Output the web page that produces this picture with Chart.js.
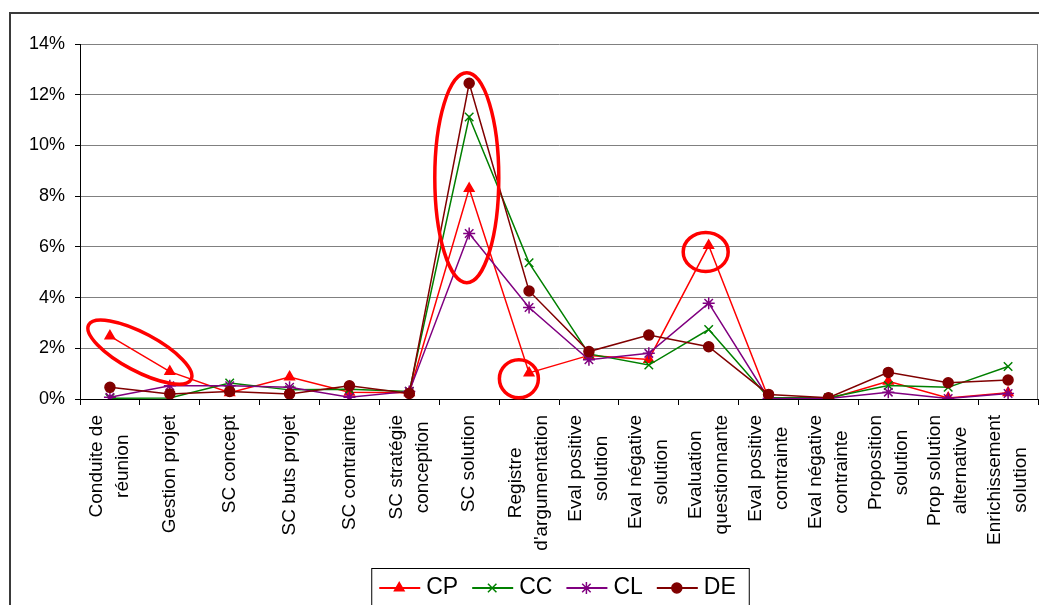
<!DOCTYPE html>
<html>
<head>
<meta charset="utf-8">
<script src="https://cdn.jsdelivr.net/npm/chart.js@4"></script>
<style>
  body { margin: 0; background: #fff; }
  canvas { display: block; }
</style>
</head>
<body>
<canvas id="chartCanvas" width="1039" height="605"></canvas>
<script>
// Catégories (axe X), une ligne par élément du tableau
const categories = [
  ['Conduite de', 'réunion'], ['Gestion projet'], ['SC concept'], ['SC buts projet'],
  ['SC contrainte'], ['SC stratégie', 'conception'], ['SC solution'], ['Registre', "d'argumentation"],
  ['Eval positive', 'solution'], ['Eval négative', 'solution'], ['Evaluation', 'questionnante'],
  ['Eval positive', 'contrainte'], ['Eval négative', 'contrainte'], ['Proposition', 'solution'],
  ['Prop solution', 'alternative'], ['Enrichissement', 'solution']
];

// Valeurs en %
const cpValues = [2.48, 1.08, 0.25, 0.87, 0.27, 0.25, 8.30, 1.03, 1.72, 1.56, 6.05, 0.03, 0.00, 0.70, 0.04, 0.25];
const ccValues = [0.03, 0.04, 0.63, 0.36, 0.38, 0.30, 11.12, 5.37, 1.78, 1.34, 2.74, 0.05, 0.05, 0.53, 0.46, 1.28];
const clValues = [0.07, 0.52, 0.52, 0.46, 0.07, 0.30, 6.53, 3.61, 1.55, 1.80, 3.78, 0.02, 0.02, 0.27, 0.02, 0.22];
const deValues = [0.46, 0.20, 0.30, 0.20, 0.52, 0.22, 12.45, 4.26, 1.87, 2.52, 2.06, 0.18, 0.05, 1.05, 0.64, 0.75];

const yTicks = [0, 2, 4, 6, 8, 10, 12, 14];

// Annotations rouges (ellipses dessinées à la main) : position en index de catégorie / valeur
const annotations = [
  { x: 0.5, y: 1.85, rx: 58, ry: 19, rot: 28 },
  { x: 5.96, y: 8.73, rx: 32, ry: 105, rot: 0 },
  { x: 6.83, y: 0.8, rx: 19.5, ry: 19, rot: 0 },
  { x: 9.95, y: 5.8, rx: 22.5, ry: 19.5, rot: 0 }
];

const FONT = 'Arial, "Liberation Sans", sans-serif';

function drawMarker(ctx, ds, x, y) {
  Chart.helpers.drawPoint(ctx, {
    pointStyle: ds.pointStyle,
    radius: ds.pointRadius,
    borderWidth: ds.pointBorderWidth,
    rotation: 0
  }, x, y);
}

const decorPlugin = {
  id: 'decor',
  beforeDraw(chart) {
    const ctx = chart.ctx;
    ctx.save();
    ctx.fillStyle = '#fff';
    ctx.fillRect(0, 0, chart.width, chart.height);
    ctx.restore();
  },
  afterDatasetsDraw(chart) {
    const ctx = chart.ctx;
    const xs = chart.scales.x, ys = chart.scales.y;
    ctx.save();
    ctx.strokeStyle = '#ff0000';
    ctx.lineWidth = 3.5;
    annotations.forEach(a => {
      ctx.beginPath();
      ctx.ellipse(xs.getPixelForValue(a.x), ys.getPixelForValue(a.y), a.rx, a.ry, a.rot * Math.PI / 180, 0, Math.PI * 2);
      ctx.stroke();
    });
    ctx.restore();
  },
  afterDraw(chart) {
    const ctx = chart.ctx;
    const area = chart.chartArea;
    const xs = chart.scales.x;
    ctx.save();

    // cadre extérieur
    ctx.strokeStyle = '#3a3a3a';
    ctx.lineWidth = 2;
    ctx.strokeRect(10, 13, chart.width + 20, chart.height + 20);

    // bord droit de la zone de traçage
    ctx.strokeStyle = '#808080';
    ctx.lineWidth = 1;
    ctx.beginPath();
    ctx.moveTo(area.right - 0.5, area.top);
    ctx.lineTo(area.right - 0.5, area.bottom);
    ctx.stroke();

    // étiquettes X verticales, lignes centrées
    ctx.fillStyle = '#000';
    ctx.font = '19px ' + FONT;
    ctx.textAlign = 'center';
    ctx.textBaseline = 'middle';
    const lh = 26;
    categories.forEach((lines, i) => {
      const w = Math.max(...lines.map(l => ctx.measureText(l).width));
      const cx = xs.getPixelForValue(i);
      const cy = area.bottom + 16 + w / 2;
      ctx.save();
      ctx.translate(cx, cy);
      ctx.rotate(-Math.PI / 2);
      lines.forEach((l, j) => {
        ctx.fillText(l, 0, (j - (lines.length - 1) / 2) * lh);
      });
      ctx.restore();
    });

    // légende
    ctx.font = '23px ' + FONT;
    ctx.textAlign = 'left';
    const items = chart.data.datasets;
    const widths = items.map(ds => 47 + ctx.measureText(ds.label).width);
    const total = widths.reduce((a, b) => a + b, 0) + 14 * (items.length - 1);
    const boxW = total + 21;
    const boxL = (area.left + area.right) / 2 + 1 - boxW / 2;
    const boxT = 568;
    ctx.strokeStyle = '#000';
    ctx.lineWidth = 1;
    ctx.strokeRect(boxL + 0.5, boxT + 0.5, boxW, 60);
    let x = boxL + 8;
    const ly = 588;
    items.forEach((ds, i) => {
      ctx.strokeStyle = ds.borderColor;
      ctx.lineWidth = 2;
      ctx.beginPath();
      ctx.moveTo(x, ly);
      ctx.lineTo(x + 41, ly);
      ctx.stroke();
      ctx.fillStyle = ds.pointBackgroundColor;
      ctx.strokeStyle = ds.pointBorderColor;
      ctx.lineWidth = ds.pointBorderWidth;
      drawMarker(ctx, ds, x + 20, ly);
      ctx.fillStyle = '#000';
      ctx.fillText(ds.label, x + 47, ly);
      x += widths[i] + 14;
    });
    ctx.restore();
  }
};

function series(label, data, color, style, radius, order) {
  return {
    label: label,
    data: data,
    borderColor: color,
    backgroundColor: color,
    pointBackgroundColor: color,
    pointBorderColor: color,
    pointStyle: style,
    pointRadius: radius,
    pointBorderWidth: 1.5,
    borderWidth: 1.5,
    tension: 0,
    fill: false,
    order: order
  };
}

const chartCanvas = document.getElementById('chartCanvas');
const myChart = new Chart(chartCanvas, {
  type: 'line',
  data: {
    labels: categories,
    datasets: [
      series('CP', cpValues, '#ff0000', 'triangle', 5.5, 4),
      series('CC', ccValues, '#008000', 'crossRot', 6, 3),
      series('CL', clValues, '#800080', 'star', 6, 2),
      series('DE', deValues, '#800000', 'circle', 5, 1)
    ]
  },
  options: {
    responsive: false,
    animation: false,
    events: [],
    layout: { autoPadding: false, padding: { top: 44, right: 1, left: 0, bottom: 0 } },
    plugins: {
      legend: { display: false },
      tooltip: { enabled: false }
    },
    scales: {
      x: {
        type: 'category',
        offset: true,
        ticks: { display: false },
        grid: { offset: true, drawOnChartArea: false, tickLength: 6, color: '#000' },
        border: { color: '#000', width: 1 },
        afterFit(scale) { scale.height = 206; }
      },
      y: {
        min: 0,
        max: 14,
        afterBuildTicks(scale) { scale.ticks = yTicks.map(v => ({ value: v })); },
        ticks: {
          callback: v => v + '%',
          color: '#000',
          font: { family: FONT, size: 18 },
          padding: 10
        },
        grid: { color: '#808080', tickColor: '#000', tickLength: 5 },
        border: { color: '#000', width: 1 },
        afterFit(scale) { scale.width = 80; }
      }
    }
  },
  plugins: [decorPlugin]
});
</script>
</body>
</html>
